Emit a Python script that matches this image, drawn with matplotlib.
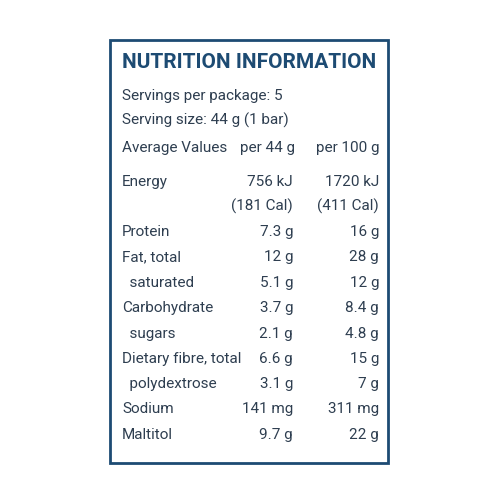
import matplotlib
matplotlib.use("Agg")
import matplotlib.pyplot as plt
from matplotlib.patches import Rectangle

title = "NUTRITION INFORMATION"
header_lines = ["Servings per package: 5", "Serving size: 44 g (1 bar)"]
col_heads = ["Average Values", "per 44 g", "per 100 g"]
nutrients = ["Energy", "", "Protein", "Fat, total", "  saturated", "Carbohydrate",
             "  sugars", "Dietary fibre, total", "  polydextrose", "Sodium", "Maltitol"]
per_serve = ["756 kJ", "(181 Cal)", "7.3 g", "12 g", "5.1 g", "3.7 g", "2.1 g",
             "6.6 g", "3.1 g", "141 mg", "9.7 g"]
per_100g = ["1720 kJ", "(411 Cal)", "16 g", "28 g", "12 g", "8.4 g", "4.8 g",
            "15 g", "7 g", "311 mg", "22 g"]
row_y = [182, 206, 232, 257, 283, 308, 334, 359, 384, 409, 435]

plt.rcParams['font.family'] = ['Roboto', 'DejaVu Sans']
fig = plt.figure(figsize=(5, 5), dpi=100)
ax = fig.add_axes([0, 0, 1, 1])
ax.set_xlim(0, 500); ax.set_ylim(500, 0); ax.axis('off')
blue = '#1d4b73'; txt = '#2e3e50'
fs = 11
ax.add_patch(Rectangle((110, 40), 278, 423, fill=False, edgecolor=blue, lw=2))
ax.text(122, 63, title, fontsize=15, fontweight='bold', color=blue, va='center', ha='left')
for i, l in enumerate(header_lines):
    ax.text(122, 96 + 24 * i, l, fontsize=fs, color=txt, va='center')
ax.text(122, 148, col_heads[0], fontsize=fs, color=txt, va='center')
ax.text(295, 148, col_heads[1], fontsize=fs, color=txt, va='center', ha='right')
ax.text(379, 148, col_heads[2], fontsize=fs, color=txt, va='center', ha='right')
for n, a, b, y in zip(nutrients, per_serve, per_100g, row_y):
    ax.text(122, y, n, fontsize=fs, color=txt, va='center')
    ax.text(293, y, a, fontsize=fs, color=txt, va='center', ha='right')
    ax.text(379, y, b, fontsize=fs, color=txt, va='center', ha='right')
fig.savefig("out.png", dpi=100)
